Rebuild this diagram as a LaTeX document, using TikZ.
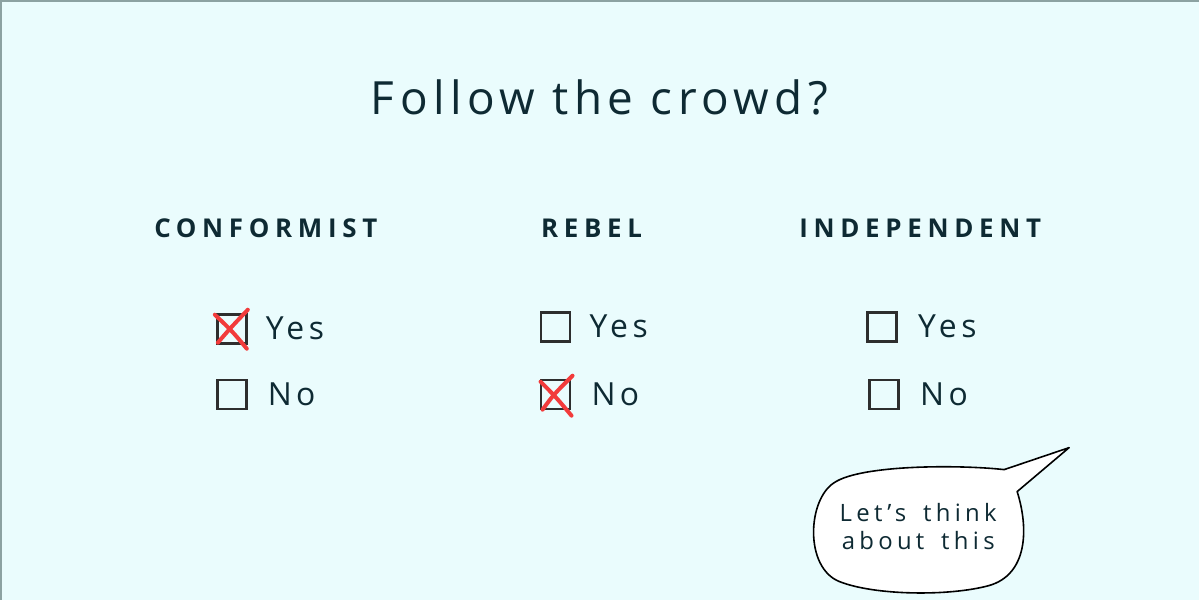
\documentclass[tikz,border=0pt]{standalone}
\usepackage{fontspec}
\setmainfont{Open Sans}
\newfontfamily\titlefont[LetterSpace=12]{Open Sans}
\newfontfamily\headfont[LetterSpace=22]{Open Sans}
\newfontfamily\answerfont[LetterSpace=14]{Open Sans}
\newfontfamily\bubblefont[LetterSpace=18,WordSpace=1.6]{Open Sans}
\usetikzlibrary{positioning}

\definecolor{bgcyan}{HTML}{EAFCFD}
\definecolor{inkteal}{HTML}{0E2A33}
\definecolor{boxgray}{HTML}{2E2E2E}
\definecolor{crossred}{HTML}{F23B3B}
\definecolor{edgegray}{HTML}{8CA2A2}

\begin{document}
\begin{tikzpicture}[x=1bp, y=-1bp,
    title/.style={font=\titlefont\fontsize{46}{52}\selectfont, text=inkteal, anchor=base},
    heading/.style={font=\headfont\bfseries\fontsize{26}{30}\selectfont, text=inkteal, anchor=base},
    box/.style={draw=boxgray, line width=2.6bp, minimum size=29bp, inner sep=0pt},
    answer/.style={font=\answerfont\fontsize{32}{36}\selectfont, text=inkteal, anchor=west, inner sep=0pt},
    cross/.style={draw=crossred, line width=4bp, line cap=round},
    bubble/.style={draw=black, fill=white, line width=1.6bp, line join=round}
]
    % Background and frame
    \fill[bgcyan] (0,0) rectangle (1200,600);
    \draw[edgegray, line width=2bp] (1,600) -- (1,1) -- (1200,1);

    % Title
    \node[title] (title) at (600,115) {Follow the crowd?};

    % Headings
    \node[heading] (hconf) at (266,238) {CONFORMIST};
    \node[heading] (hreb) at (592,238) {REBEL};
    \node[heading] (hind) at (921,238) {INDEPENDENT};

    % Check boxes
    \node[box] (cyes) at (232,329) {};
    \node[box] (cno) at (232,395) {};
    \node[box] (ryes) at (556,327) {};
    \node[box] (rno) at (556,395) {};
    \node[box] (iyes) at (883,327) {};
    \node[box] (ino) at (885,395) {};

    % Answers
    \node[answer, right=18bp of cyes] (cyestxt) {Yes};
    \node[answer, right=20bp of cno] (cnotxt) {No};
    \node[answer, right=18bp of ryes] (ryestxt) {Yes};
    \node[answer, right=20bp of rno] (rnotxt) {No};
    \node[answer, right=20bp of iyes] (iyestxt) {Yes};
    \node[answer, right=20bp of ino] (inotxt) {No};

    % Red crosses
    \draw[cross] ([shift={(-17,-14)}]cyes.center) .. controls ([shift={(0,2)}]cyes.center) .. ([shift={(15,20)}]cyes.center);
    \draw[cross] ([shift={(16,-19)}]cyes.center) .. controls ([shift={(-2,0)}]cyes.center) .. ([shift={(-14,14)}]cyes.center);
    \draw[cross] ([shift={(-15,-13)}]rno.center) .. controls ([shift={(0,2)}]rno.center) .. ([shift={(16,21)}]rno.center);
    \draw[cross] ([shift={(17,-19)}]rno.center) .. controls ([shift={(-2,0)}]rno.center) .. ([shift={(-13,15)}]rno.center);

    % Speech bubble
    \draw[bubble] (1005,470) -- (1070,448) -- (1018,492)
        .. controls (1030,530) and (1028,575) .. (990,586)
        .. controls (950,597) and (875,596) .. (840,582)
        .. controls (805,568) and (808,500) .. (835,483)
        .. controls (862,465) and (960,465) .. (1005,470) -- cycle;
    \node[font=\bubblefont\fontsize{24}{28}\selectfont, text=inkteal, align=center] (think) at (919,527) {Let’s think\\about this};
\end{tikzpicture}
\end{document}
